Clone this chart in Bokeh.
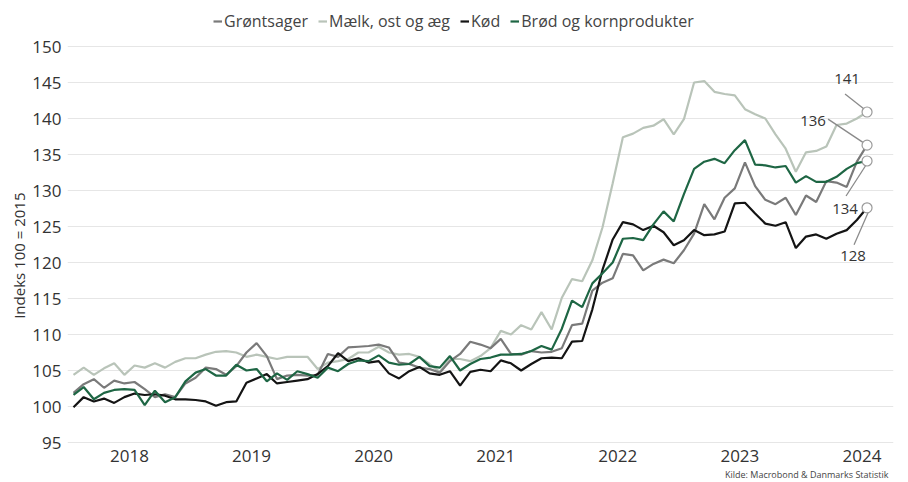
import numpy as np
from bokeh.plotting import figure
from bokeh.models import Range1d, FixedTicker, Legend, LegendItem, Title, ColumnDataSource
from bokeh.embed import file_html
from bokeh.resources import INLINE
from bokeh.core.properties import value

# Monthly index values, Jan 2018 .. Jul 2024 (month 0 = Jan 2018)
months = list(range(79))
years = [2018, 2019, 2020, 2021, 2022, 2023, 2024]

groentsager = [101.9, 103.1, 103.8, 102.6, 103.6, 103.2, 103.4, 102.4, 101.3, 101.7,
               101.3, 103.2, 104.0, 105.4, 105.2, 104.4, 105.6, 107.5, 108.8, 107.0,
               103.8, 104.3, 104.4, 104.3, 104.4, 107.3, 106.9, 108.2, 108.3, 108.4,
               108.6, 108.2, 106.1, 105.9, 105.4, 105.2, 104.7, 106.3, 107.3, 109.0,
               108.6, 108.1, 109.4, 107.3, 107.2, 107.7, 107.5, 107.6, 108.1, 111.3,
               111.5, 116.1, 117.2, 117.8, 121.2, 121.0, 118.9, 119.8, 120.4, 119.9,
               121.7, 124.0, 128.1, 126.0, 129.0, 130.3, 133.9, 130.6, 128.7, 128.1,
               129.0, 126.6, 129.3, 128.4, 131.3, 131.1, 130.5, 134.0, 136.3]

maelk = [104.4, 105.4, 104.4, 105.3, 106.0, 104.4, 105.7, 105.4, 106.0, 105.4,
         106.2, 106.7, 106.7, 107.2, 107.6, 107.7, 107.5, 106.9, 107.2, 106.9,
         106.6, 106.9, 106.9, 106.9, 105.2, 106.1, 106.3, 106.6, 107.5, 107.5,
         108.3, 107.5, 107.2, 107.3, 106.9, 105.9, 104.8, 106.6, 106.6, 106.3,
         107.0, 108.1, 110.5, 110.0, 111.3, 110.7, 113.1, 110.7, 115.1, 117.7,
         117.4, 120.3, 124.9, 131.0, 137.4, 137.9, 138.7, 139.0, 139.9, 137.8,
         139.9, 145.0, 145.2, 143.7, 143.4, 143.2, 141.3, 140.6, 140.0, 137.8,
         135.8, 132.6, 135.3, 135.5, 136.1, 139.1, 139.3, 140.0, 140.9]

koed = [99.9, 101.3, 100.7, 101.1, 100.5, 101.3, 101.8, 101.6, 101.7, 101.5,
        101.0, 101.0, 100.9, 100.7, 100.1, 100.6, 100.7, 103.3, 103.9, 104.5,
        103.2, 103.4, 103.6, 103.8, 104.5, 105.6, 107.4, 106.3, 106.7, 106.1,
        106.3, 104.6, 103.9, 104.9, 105.5, 104.6, 104.4, 104.9, 102.9, 104.8,
        105.1, 104.9, 106.4, 106.0, 105.0, 105.9, 106.7, 106.8, 106.7, 109.0,
        109.1, 113.5, 119.0, 123.2, 125.6, 125.3, 124.5, 125.1, 124.2, 122.4,
        123.1, 124.5, 123.8, 123.9, 124.3, 128.2, 128.3, 126.8, 125.4, 125.1,
        125.6, 122.0, 123.6, 123.9, 123.3, 124.0, 124.5, 125.9, 127.6]

broed = [101.6, 102.7, 101.0, 101.9, 102.3, 102.4, 102.3, 100.2, 102.2, 100.6,
         101.3, 103.5, 104.7, 105.2, 104.3, 104.3, 105.8, 105.0, 105.2, 103.5,
         104.6, 103.7, 104.9, 104.5, 104.0, 105.4, 104.9, 105.9, 106.4, 106.3,
         107.1, 106.1, 105.8, 105.9, 106.9, 105.6, 105.4, 107.0, 105.0, 105.9,
         106.6, 106.8, 107.2, 107.2, 107.3, 107.7, 108.4, 107.9, 110.8, 114.7,
         113.8, 117.1, 118.5, 120.0, 123.3, 123.4, 123.1, 125.3, 127.1, 125.7,
         129.5, 133.0, 134.0, 134.4, 133.8, 135.6, 137.0, 133.6, 133.5, 133.2,
         133.4, 131.1, 132.0, 131.2, 131.2, 131.9, 133.0, 133.8, 134.1]

names = ["Grøntsager", "Mælk, ost og æg", "Kød", "Brød og kornprodukter"]
series = [groentsager, maelk, koed, broed]
colors = ["#7a7a7a", "#b9c4b9", "#141414", "#1e6644"]
end_labels = ["136", "141", "128", "134"]

FONT = "Open Sans"
TXT = "#333333"

W, H = 908, 482
BL, BR, BT, BB = 67, 15, 5, 39
FW = W - BL - BR
FH = H - BT - BB
x0, x1 = -0.59, 80.6
y0 = 95 - 1 / 7.2
y1 = y0 + FH / 7.2
sx = FW / (x1 - x0)
sy = FH / (y1 - y0)

p = figure(width=W, height=H, output_backend="svg", toolbar_location=None,
           x_range=Range1d(x0, x1), y_range=Range1d(y0, y1),
           min_border_left=BL, min_border_right=BR, min_border_top=BT, min_border_bottom=BB,
           background_fill_color="white", border_fill_color="white")
p.outline_line_color = None
p.xgrid.grid_line_color = None
p.ygrid.grid_line_color = "#e6e6e6"
p.ygrid.grid_line_width = 1

p.yaxis.ticker = FixedTicker(ticks=list(range(95, 151, 5)))
p.xaxis.ticker = FixedTicker(ticks=[5.5 + 12 * i for i in range(len(years))])
p.xaxis.major_label_overrides = {5.5 + 12 * i: str(y) for i, y in enumerate(years)}

for ax in (p.xaxis, p.yaxis):
    ax.axis_line_color = None
    ax.major_tick_line_color = None
    ax.minor_tick_line_color = None
    ax.major_label_text_font = FONT
    ax.major_label_text_font_size = "17px"
    ax.major_label_text_color = TXT
p.yaxis.major_label_standoff = 0
p.xaxis.major_label_standoff = 0

# y-axis title (trailing no-break spaces shift it down to sit beside the data area)
p.yaxis.axis_label = "Indeks 100 = 2015" + "\u00a0" * 16
p.yaxis.axis_label_text_font = FONT
p.yaxis.axis_label_text_font_size = "15px"
p.yaxis.axis_label_text_font_style = "normal"
p.yaxis.axis_label_text_color = TXT
p.yaxis.axis_label_standoff = 0

renderers = {}
draw_order = [1, 0, 2, 3]
for i in draw_order:
    src = ColumnDataSource(dict(x=months, y=series[i]))
    renderers[i] = p.line("x", "y", source=src, line_color=colors[i], line_width=2.2)

# leader lines & end labels (pixel offsets relative to final point)
lab_off = [(-54, -24), (-20, -33), (-14, 48), (-22, 48)]
lead = [((-39, -26), (-3, -2)), ((-22, -18), (-3, -3)), ((-13, 37), (1, 5)), ((-21, 35), (-1, 4))]
lx = months[-1]
seg = dict(x0=[], y0=[], x1=[], y1=[])
for i, s in enumerate(series):
    ly = s[-1]
    (a, b), (c, d) = lead[i]
    seg["x0"].append(lx + a / sx); seg["y0"].append(ly - b / sy)
    seg["x1"].append(lx + c / sx); seg["y1"].append(ly - d / sy)
p.segment("x0", "y0", "x1", "y1", source=ColumnDataSource(seg), line_color="#8a8a8a", line_width=1.3)

ends = ColumnDataSource(dict(x=[lx] * 4, y=[s[-1] for s in series], t=end_labels,
                             xo=[o[0] for o in lab_off], yo=[o[1] for o in lab_off]))
p.scatter("x", "y", source=ends, size=10, fill_color="white", line_color="#9a9a9a", line_width=1.2)
p.text("x", "y", text="t", source=ends, x_offset="xo", y_offset="yo",
       text_align="center", text_baseline="middle", text_font=value(FONT),
       text_font_size="15px", text_color=TXT)

# legend inside the frame, in the headroom above the 150 line
legend = Legend(items=[LegendItem(label=names[i], renderers=[renderers[i]]) for i in range(4)],
                orientation="horizontal", location=(146, FH - 27),
                label_text_font=FONT, label_text_font_size="16px", label_text_color="#444444",
                glyph_width=9, glyph_height=16, label_standoff=2, spacing=10,
                padding=0, margin=0, border_line_color=None, background_fill_alpha=0)
p.add_layout(legend, "center")

# source note under the x axis
src_title = Title(text="Kilde: Macrobond & Danmarks Statistik", align="right",
                  text_font=FONT, text_font_size="9px", text_font_style="normal",
                  text_color="#444444", standoff=3, offset=5)
p.add_layout(src_title, "below")

open("out.html", "w").write(file_html(p, INLINE))
